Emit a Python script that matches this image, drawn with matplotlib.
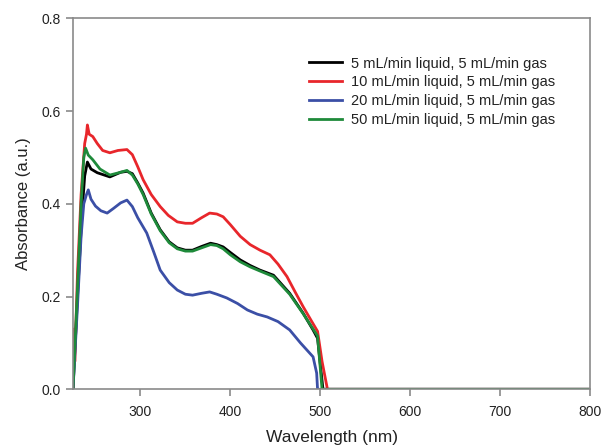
import matplotlib
matplotlib.use("Agg")
import matplotlib.pyplot as plt

# UV-vis absorbance spectra -------------------------------------------------
wl_5 = [225, 230, 235, 238, 241, 245, 252, 266, 278, 285, 291, 297, 303, 312,
        322, 332, 341, 350, 358, 368, 378, 385, 392, 400, 411, 422, 433, 448,
        466, 481, 492, 497, 503, 800]
abs_5 = [0.0, 0.20, 0.38, 0.46, 0.49, 0.475, 0.467, 0.458, 0.468, 0.47, 0.465,
         0.445, 0.423, 0.38, 0.344, 0.318, 0.305, 0.30, 0.30, 0.308, 0.315,
         0.312, 0.307, 0.295, 0.279, 0.267, 0.257, 0.246, 0.207, 0.164, 0.128,
         0.11, 0.0, 0.0]

wl_10 = [225, 226, 227, 230, 234, 238, 240, 241, 243, 247, 252, 258, 266, 275,
         285, 291, 297, 303, 312, 322, 331, 341, 350, 358, 368, 377, 385, 392,
         400, 411, 422, 433, 444, 453, 463, 472, 481, 490, 497, 502, 508, 800]
abs_10 = [0.0, 0.13, 0.06, 0.25, 0.42, 0.53, 0.55, 0.57, 0.55, 0.545, 0.53,
          0.515, 0.51, 0.515, 0.517, 0.506, 0.48, 0.452, 0.42, 0.394, 0.375,
          0.361, 0.358, 0.358, 0.37, 0.38, 0.378, 0.372, 0.355, 0.33, 0.312,
          0.30, 0.29, 0.27, 0.243, 0.21, 0.178, 0.148, 0.125, 0.06, 0.0, 0.0]

wl_20 = [225, 230, 234, 237, 240, 242, 245, 250, 256, 263, 270, 278, 285, 291,
         297, 307, 315, 322, 332, 341, 350, 358, 368, 377, 385, 396, 408, 419,
         430, 441, 453, 466, 478, 492, 496, 497, 800]
abs_20 = [0.0, 0.18, 0.33, 0.40, 0.42, 0.43, 0.41, 0.395, 0.385, 0.38, 0.39,
          0.402, 0.408, 0.394, 0.37, 0.337, 0.295, 0.257, 0.23, 0.214, 0.205,
          0.203, 0.207, 0.21, 0.205, 0.197, 0.185, 0.171, 0.162, 0.156, 0.146,
          0.128, 0.10, 0.07, 0.035, 0.0, 0.0]

wl_50 = [225, 230, 234, 237, 239, 242, 247, 255, 266, 278, 285, 291, 297, 303,
         312, 322, 332, 341, 350, 358, 368, 378, 385, 392, 400, 411, 422, 433,
         448, 466, 481, 492, 497, 502, 800]
abs_50 = [0.0, 0.22, 0.40, 0.50, 0.52, 0.505, 0.495, 0.475, 0.462, 0.468,
          0.472, 0.462, 0.443, 0.42, 0.378, 0.342, 0.316, 0.303, 0.298, 0.298,
          0.305, 0.312, 0.31, 0.303, 0.29, 0.275, 0.264, 0.255, 0.243, 0.205,
          0.163, 0.13, 0.115, 0.0, 0.0]

labels = ["5 mL/min liquid, 5 mL/min gas",
          "10 mL/min liquid, 5 mL/min gas",
          "20 mL/min liquid, 5 mL/min gas",
          "50 mL/min liquid, 5 mL/min gas"]
colors = ["#000000", "#e8262b", "#3b4fa6", "#1e8a3a"]

# Figure ---------------------------------------------------------------------
plt.rcParams["font.family"] = ["Liberation Sans", "DejaVu Sans"]
fig = plt.figure(figsize=(6.02, 4.48), dpi=100)
ax = fig.add_axes([73 / 602, 1 - 389.3 / 448, 517 / 602, 371 / 448])

series = [(wl_5, abs_5), (wl_10, abs_10), (wl_20, abs_20), (wl_50, abs_50)]
for (x, y), lab, c in zip(series, labels, colors):
    ax.plot(x, y, color=c, lw=2.0, label=lab)

ax.set_xlim(225, 800)
ax.set_ylim(0, 0.8)
ax.set_xticks([300, 400, 500, 600, 700, 800])
ax.set_yticks([0.0, 0.2, 0.4, 0.6, 0.8])
ax.set_yticklabels(["0.0", "0.2", "0.4", "0.6", "0.8"])

for sp in ax.spines.values():
    sp.set_color("#8a8a8a")
    sp.set_linewidth(1.2)
ax.tick_params(direction="out", length=5, width=1.2, color="#8a8a8a",
               labelsize=10, labelcolor="#222222", top=False, right=False)
ax.tick_params(axis="x", pad=6)

ax.set_xlabel("Wavelength (nm)", fontsize=12.5, color="#222222", labelpad=8)
ax.set_ylabel("Absorbance (a.u.)", fontsize=12, color="#222222", labelpad=8)

leg = ax.legend(loc="upper left", bbox_to_anchor=(0.457, 0.897),
                frameon=False, fontsize=10.5, handlelength=2.25,
                handletextpad=0.6, labelspacing=0.33, borderpad=0,
                borderaxespad=0)
for t in leg.get_texts():
    t.set_color("#222222")

fig.savefig("out.png", dpi=100)
